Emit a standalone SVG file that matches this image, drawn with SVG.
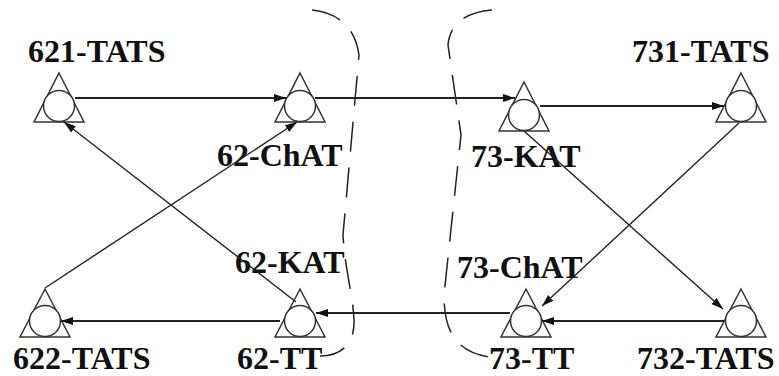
<svg xmlns="http://www.w3.org/2000/svg" width="779" height="376" viewBox="0 0 779 376">
<style>
.tri{fill:none;stroke:#333;stroke-width:1.5}
.cir{fill:#fff;stroke:#333;stroke-width:1.5}
.e{fill:none;stroke:#222;stroke-width:1.4}
.h{stroke-width:2}
.br{fill:none;stroke:#222;stroke-width:1.5;stroke-dasharray:30 16}
.t{font-family:'Liberation Serif','Times New Roman','DejaVu Serif',serif;font-weight:700;font-size:32px;fill:#111}
</style>
<defs>
<marker id="a" markerUnits="userSpaceOnUse" markerWidth="13" markerHeight="9" refX="12" refY="4" orient="auto">
<path d="M0,0 L12,4 L0,8 z" fill="#111"/>
</marker>
</defs>
<g id="brackets">
<path class="br" d="M312,10 C335,12 355,25 359,55 L343,235 C345,270 353,295 354,320 C355,345 340,356 320,356"/>
<path class="br" d="M492,10 C468,12 450,22 448,45 L461,135 L444,295 C444,330 455,352 490,357"/>
</g>
<g id="n621"><polygon class="tri" points="59,73 84,122 34,122"/><circle class="cir" cx="59" cy="106" r="15.5"/><text class="t" x="28" y="62">621-TATS</text></g>
<g id="n62chat"><polygon class="tri" points="300,73 325,122 275,122"/><circle class="cir" cx="300" cy="106" r="15.5"/><text class="t" x="217" y="166">62-ChAT</text></g>
<g id="n73kat"><polygon class="tri" points="524,82 549,131 499,131"/><circle class="cir" cx="524" cy="115" r="15.5"/><text class="t" x="471" y="167">73-KAT</text></g>
<g id="n731"><polygon class="tri" points="741,73 766,122 716,122"/><circle class="cir" cx="741" cy="106" r="15.5"/><text class="t" x="632" y="62">731-TATS</text></g>
<g id="n622"><polygon class="tri" points="45,289 70,337 20,337"/><circle class="cir" cx="45" cy="321" r="15.5"/><text class="t" x="13" y="369">622-TATS</text></g>
<g id="n62tt"><polygon class="tri" points="300,289 325,337 275,337"/><circle class="cir" cx="300" cy="321" r="15.5"/><text class="t" x="235" y="273">62-KAT</text><text class="t" x="237" y="369">62-TT</text></g>
<g id="n73tt"><polygon class="tri" points="526,289 551,337 501,337"/><circle class="cir" cx="526" cy="321" r="15.5"/><text class="t" x="457" y="278">73-ChAT</text><text class="t" x="489" y="369">73-TT</text></g>
<g id="n732"><polygon class="tri" points="741,289 766,337 716,337"/><circle class="cir" cx="741" cy="321" r="15.5"/><text class="t" x="637" y="369">732-TATS</text></g>
<g id="connectors">
<line class="e h" x1="75" y1="98" x2="286" y2="98" marker-end="url(#a)"/>
<line class="e h" x1="315" y1="98" x2="515" y2="98" marker-end="url(#a)"/>
<line class="e h" x1="540" y1="106" x2="724" y2="106" marker-end="url(#a)"/>
<line class="e" x1="739" y1="123" x2="542" y2="306" marker-end="url(#a)"/>
<line class="e" x1="524" y1="131" x2="723" y2="309" marker-end="url(#a)"/>
<line class="e h" x1="724" y1="321" x2="542" y2="321" marker-end="url(#a)"/>
<line class="e h" x1="510" y1="313" x2="316" y2="313" marker-end="url(#a)"/>
<line class="e h" x1="280" y1="321" x2="61" y2="321" marker-end="url(#a)"/>
<line class="e" x1="45" y1="288" x2="297" y2="122" marker-end="url(#a)"/>
<line class="e" x1="296" y1="302" x2="64" y2="122" marker-end="url(#a)"/>
</g>
</svg>
